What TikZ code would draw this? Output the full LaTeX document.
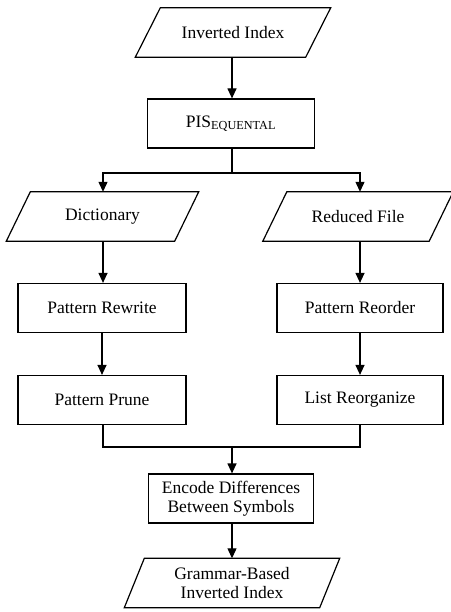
\documentclass[tikz,border=0pt]{standalone}
\usepackage{fontspec}
\setmainfont{Liberation Serif}
\usetikzlibrary{arrows.meta}
\begin{document}
\begin{tikzpicture}[x=1pt,y=-1pt,
  base/.style={font=\fontsize{17.5}{19.5}\selectfont, align=center, inner sep=0pt},
  box/.style={base, draw, line width=1.2pt, minimum height=49, minimum width=#1},
  io/.style={base, minimum height=49, minimum width=#1},
  line/.style={line width=1.2pt},
  arr/.style={line width=1.2pt, -{Triangle[length=10pt,width=9pt]}}]
\useasboundingbox (0,0) rectangle (450,612);
\node[io=170] (inidx) at (233,32.5) {Inverted Index};
\node[box=167] (pis) at (231,123.5) {PIS\textsubscript{EQUENTAL}};
\node[io=168] (dict) at (102.5,216.5) {Dictionary};
\node[io=166] (red) at (358,216.5) {Reduced File};
\node[box=168] (rew) at (102,308) {Pattern Rewrite};
\node[box=166] (reo) at (360,308) {Pattern Reorder};
\node[box=168] (pru) at (102,400) {Pattern Prune};
\node[box=166] (rlo) at (360,400) {List Reorganize};
\node[box=165] (enc) at (231,498.5) {Encode Differences\\Between Symbols};
\node[io=195] (gb) at (232,583) {Grammar-Based\\Inverted Index};
\foreach \n/\s in {inidx/12.5, dict/12, red/12, gb/10}
  \draw[line] ([xshift=\s]\n.north west) -- ([xshift=\s]\n.north east)
    -- ([xshift=-\s]\n.south east) -- ([xshift=-\s]\n.south west) -- cycle;
\coordinate (split) at (232,173);
\coordinate (merge) at (232,447);
\draw[arr] (inidx.south -| 232,0) -- (pis.north -| 232,0);
\draw[line] (pis.south -| split) -- (split);
\draw[arr] (split) -| (dict.north -| 103,0);
\draw[arr] (split) -| (red.north -| 360,0);
\draw[arr] (dict.south -| 103,0) -- (rew.north -| 103,0);
\draw[arr] (red.south -| 360,0) -- (reo.north);
\draw[arr] (rew) -- (pru);
\draw[arr] (reo) -- (rlo);
\draw[line] (pru.south -| 103,0) |- (merge);
\draw[line] (rlo.south) |- (merge);
\draw[arr] (merge) -- (enc.north -| merge);
\draw[arr] (enc.south -| merge) -- (gb.north -| merge);
\end{tikzpicture}
\end{document}
